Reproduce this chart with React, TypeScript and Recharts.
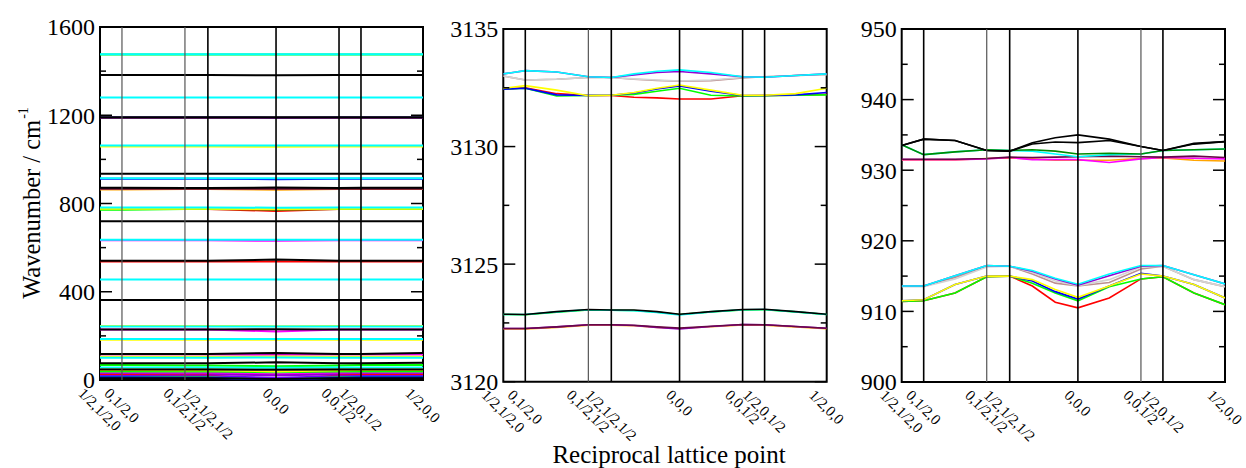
import React from 'react';
import { LineChart, Line, XAxis, YAxis, ReferenceLine, ReferenceArea } from 'recharts';

// k-path tick positions and labels
const kPos = [0, 0.068, 0.263, 0.334, 0.545, 0.74, 0.808, 1.0];
const kLabels = ['1/2,1/2,0', '0,1/2,0', '0,1/2,1/2', '1/2,1/2,1/2', '0,0,0', '0,0,1/2', '1/2,0,1/2', '1/2,0,0'];
// sampled path positions (for zoomed panels)
const pathPos = [0, 0.068, 0.165, 0.263, 0.334, 0.404, 0.475, 0.545, 0.642, 0.74, 0.808, 0.904, 1.0];

const COL: Record<string, string> = {
  black: '#000000', red: '#ff0000', green: '#00ff00', blue: '#0000ff', yellow: '#ffff00',
  brown: '#bc8f8f', grey: '#d3d3d3', violet: '#9400d3', cyan: '#00ffff', magenta: '#ff00ff',
  orange: '#ffa500', indigo: '#7200ff', maroon: '#670748', dgreen: '#008b00',
};

// Panel 1: full range 0-1600 (values at kPos)
const overviewHigh: [string, number[]][] = [
  ['green', [1475, 1475, 1475, 1475, 1475, 1475, 1475, 1475]],
  ['cyan', [1477, 1477, 1477, 1477, 1477, 1477, 1477, 1477]],
  ['black', [1382, 1382, 1382, 1382, 1381, 1382, 1382, 1382]],
  ['cyan', [1281, 1281, 1281, 1281, 1281, 1281, 1281, 1281]],
  ['blue', [1190, 1190, 1190, 1190, 1189, 1190, 1190, 1190]],
  ['maroon', [1189, 1189, 1189, 1189, 1189, 1189, 1189, 1189]],
  ['black', [1191, 1191, 1191, 1191, 1191, 1191, 1191, 1191]],
  ['yellow', [1058, 1058, 1058, 1058, 1057, 1058, 1058, 1058]],
  ['cyan', [1063, 1063, 1063, 1063, 1063, 1063, 1063, 1063]],
  ['black', [935, 935, 935, 935, 935, 935, 935, 935]],
  ['blue', [912, 912, 912, 912, 910, 912, 912, 912]],
  ['cyan', [915, 915, 915, 915, 914, 915, 915, 915]],
];
const overviewMid: [string, number[]][] = [
  ['orange', [863, 863, 866, 866, 862, 866, 866, 866]],
  ['maroon', [867, 867, 867, 867, 867, 867, 867, 867]],
  ['black', [871, 871, 870, 870, 872, 870, 871, 871]],
  ['red', [775, 775, 775, 775, 766, 775, 775, 775]],
  ['green', [772, 772, 775, 775, 773, 775, 775, 775]],
  ['yellow', [776, 776, 776, 776, 775, 776, 776, 776]],
  ['cyan', [782, 782, 782, 782, 781, 782, 782, 782]],
  ['black', [719, 719, 719, 719, 719, 719, 719, 719]],
  ['magenta', [633, 633, 633, 633, 631, 633, 633, 633]],
  ['cyan', [636, 636, 636, 636, 636, 636, 636, 636]],
  ['red', [537, 537, 537, 537, 537, 537, 537, 537]],
  ['black', [540, 540, 540, 540, 546, 540, 540, 540]],
  ['cyan', [456, 456, 456, 456, 455, 456, 456, 456]],
  ['black', [363, 363, 363, 363, 363, 363, 363, 363]],
];
const overviewLow: [string, number[]][] = [
  ['magenta', [229, 229, 229, 229, 220, 229, 229, 229]],
  ['black', [229, 229, 229, 229, 230, 229, 229, 229]],
  ['yellow', [245, 245, 245, 245, 244, 245, 245, 245]],
  ['cyan', [242, 242, 242, 242, 243, 242, 242, 242]],
  ['yellow', [182, 182, 182, 182, 183, 182, 182, 182]],
  ['cyan', [186, 186, 186, 186, 186, 186, 186, 186]],
  ['magenta', [116, 116, 116, 116, 114, 116, 116, 116]],
  ['black', [118, 118, 118, 118, 122, 118, 118, 122]],
  ['yellow', [105, 105, 105, 105, 106, 105, 105, 105]],
  ['cyan', [101, 101, 101, 101, 102, 101, 101, 101]],
  ['green', [68, 68, 66, 66, 62, 66, 68, 68]],
  ['orange', [52, 52, 52, 52, 50, 52, 52, 52]],
  ['yellow', [41, 41, 41, 41, 38, 41, 41, 41]],
  ['green', [36, 36, 35, 35, 30, 35, 36, 36]],
  ['cyan', [57, 57, 57, 57, 55, 57, 57, 57]],
  ['magenta', [30, 30, 30, 30, 26, 30, 30, 30]],
  ['violet', [26, 26, 25, 25, 22, 25, 26, 26]],
  ['red', [23, 23, 20, 20, 0, 20, 23, 23]],
  ['indigo', [18, 18, 17, 17, 10, 17, 18, 18]],
  ['green', [14, 14, 12, 12, 0, 12, 14, 14]],
  ['blue', [12, 12, 10, 10, 0, 10, 12, 12]],
  ['black', [76, 76, 76, 76, 80, 76, 76, 78]],
  ['black', [48, 48, 48, 48, 46, 48, 48, 48]],
  ['black', [8, 8, 8, 8, 5, 8, 8, 8]],
];

// Panel 2: 3120-3135 (values at pathPos)
const chHighBands: [string, number[]][] = [
  ['red', [3132.44, 3132.5, 3132.25, 3132.17, 3132.17, 3132.1, 3132.07, 3132.02, 3132.02, 3132.16, 3132.17, 3132.18, 3132.22]],
  ['green', [3132.44, 3132.48, 3132.15, 3132.17, 3132.18, 3132.22, 3132.35, 3132.48, 3132.18, 3132.15, 3132.16, 3132.18, 3132.2]],
  ['blue', [3132.44, 3132.48, 3132.2, 3132.17, 3132.18, 3132.28, 3132.45, 3132.58, 3132.35, 3132.17, 3132.17, 3132.2, 3132.3]],
  ['yellow', [3132.48, 3132.59, 3132.4, 3132.16, 3132.18, 3132.3, 3132.48, 3132.62, 3132.4, 3132.18, 3132.18, 3132.25, 3132.48]],
  ['brown', [3133.0, 3132.83, 3132.86, 3132.94, 3132.94, 3132.86, 3132.81, 3132.78, 3132.8, 3132.92, 3132.97, 3133.02, 3133.06]],
  ['grey', [3133.0, 3132.83, 3132.86, 3132.94, 3132.94, 3132.88, 3132.83, 3132.79, 3132.83, 3132.94, 3132.97, 3133.02, 3133.06]],
  ['violet', [3133.09, 3133.23, 3133.17, 3132.97, 3132.94, 3133.05, 3133.15, 3133.19, 3133.09, 3132.97, 3132.95, 3133.02, 3133.09]],
  ['cyan', [3133.09, 3133.23, 3133.17, 3132.97, 3132.94, 3133.09, 3133.2, 3133.26, 3133.15, 3132.97, 3132.95, 3133.02, 3133.09]],
];
const chLowBands: [string, number[]][] = [
  ['orange', [3122.24, 3122.24, 3122.31, 3122.4, 3122.4, 3122.38, 3122.31, 3122.26, 3122.34, 3122.41, 3122.4, 3122.33, 3122.25]],
  ['violet', [3122.26, 3122.26, 3122.33, 3122.42, 3122.42, 3122.39, 3122.31, 3122.24, 3122.35, 3122.43, 3122.42, 3122.35, 3122.27]],
  ['maroon', [3122.26, 3122.26, 3122.33, 3122.42, 3122.42, 3122.4, 3122.33, 3122.28, 3122.36, 3122.43, 3122.42, 3122.35, 3122.27]],
  ['green', [3122.86, 3122.85, 3122.96, 3123.05, 3123.04, 3123.03, 3122.96, 3122.86, 3122.97, 3123.05, 3123.06, 3122.97, 3122.86]],
  ['cyan', [3122.86, 3122.86, 3122.97, 3123.06, 3123.04, 3123.02, 3122.94, 3122.84, 3122.97, 3123.06, 3123.07, 3122.97, 3122.86]],
  ['black', [3122.87, 3122.86, 3122.98, 3123.07, 3123.05, 3123.05, 3122.98, 3122.87, 3122.98, 3123.07, 3123.08, 3122.98, 3122.87]],
];

// Panel 3: 900-950 (values at pathPos)
const ch2HighBands: [string, number[]][] = [
  ['orange', [931.45, 931.45, 931.45, 931.65, 931.75, 931.6, 931.4, 931.4, 931.4, 931.65, 931.75, 931.4, 931.3]],
  ['magenta', [931.5, 931.5, 931.5, 931.6, 931.8, 931.5, 931.5, 931.5, 931.1, 931.6, 931.8, 931.7, 931.6]],
  ['maroon', [931.55, 931.55, 931.55, 931.65, 931.85, 931.8, 931.85, 931.9, 932.0, 931.9, 931.85, 932.0, 931.8]],
  ['cyan', [933.6, 932.2, 932.6, 932.9, 932.8, 932.7, 932.3, 931.9, 932.2, 932.3, 932.8, 932.9, 933.0]],
  ['dgreen', [933.6, 932.2, 932.6, 932.9, 932.8, 932.9, 932.7, 932.3, 932.4, 932.3, 932.8, 932.9, 933.0]],
  ['black', [933.5, 934.4, 934.2, 932.8, 932.7, 933.7, 934.0, 933.9, 934.2, 933.35, 932.8, 933.7, 934.05]],
  ['black', [933.5, 934.4, 934.2, 932.8, 932.7, 933.9, 934.6, 935.0, 934.4, 933.35, 932.8, 933.8, 934.05]],
];
const ch2LowBands: [string, number[]][] = [
  ['red', [911.4, 911.5, 912.6, 914.9, 915.0, 913.6, 911.3, 910.5, 911.9, 914.6, 914.9, 912.6, 910.95]],
  ['green', [911.4, 911.5, 912.6, 914.9, 915.0, 914.0, 912.6, 911.5, 913.5, 914.6, 914.9, 912.6, 910.95]],
  ['blue', [911.5, 911.65, 913.8, 915.0, 915.0, 914.3, 912.8, 911.75, 913.6, 915.4, 915.0, 913.8, 911.9]],
  ['yellow', [911.5, 911.65, 913.8, 915.0, 915.0, 914.5, 913.1, 912.0, 913.6, 915.3, 915.0, 913.8, 911.9]],
  ['brown', [913.6, 913.6, 914.8, 916.4, 916.4, 915.3, 914.0, 913.6, 914.1, 916.0, 916.4, 914.5, 913.5]],
  ['grey', [913.5, 913.5, 914.6, 916.3, 916.4, 915.5, 914.3, 913.65, 914.5, 916.3, 916.4, 914.5, 913.5]],
  ['violet', [913.6, 913.6, 915.05, 916.5, 916.4, 915.7, 914.6, 913.7, 915.05, 916.4, 916.5, 915.2, 913.9]],
  ['cyan', [913.6, 913.6, 915.05, 916.5, 916.4, 915.8, 914.7, 913.85, 915.3, 916.5, 916.5, 915.2, 913.9]],
];

const ticksP1 = [0, 200, 400, 600, 800, 1000, 1200, 1400, 1600];
const ticksP2 = [3120, 3122.5, 3125, 3127.5, 3130, 3132.5, 3135];
const ticksP3 = [900, 905, 910, 915, 920, 925, 930, 935, 940, 945, 950];

const FONT = '"Liberation Serif", "Times New Roman", Times, "DejaVu Serif", serif';

const charW = (ch: string) => (ch === '/' ? 0.278 : ch === ',' ? 0.25 : 0.5);

const makeXTick = (labelTop: number) => (p: any) => {
  const label = kLabels[p.index] ?? '';
  const fs = 15;
  const L = label.split('').reduce((s, c) => s + charW(c), 0) * fs;
  const h = L * Math.SQRT1_2;
  return (
    <text
      transform={`translate(${p.x},${labelTop + h / 2}) rotate(45)`}
      textAnchor="middle"
      dy="0.35em"
      style={{ fontFamily: FONT, fontSize: fs }}
      fill="#000"
    >
      {label}
    </text>
  );
};

const makeYTick = (left: number, right: number, every: number) => (p: any) => {
  const v = p.payload.value;
  const r = v / every;
  const isMajor = Math.abs(r - Math.round(r)) < 1e-6;
  const len = isMajor ? 12 : 6;
  return (
    <g>
      <line x1={left} x2={left + len} y1={p.y} y2={p.y} stroke="#000" strokeWidth={1.5} />
      <line x1={right - len} x2={right} y1={p.y} y2={p.y} stroke="#000" strokeWidth={1.5} />
      {isMajor && (
        <text x={left - 5} y={p.y} dy="0.35em" textAnchor="end" style={{ fontFamily: FONT, fontSize: 24 }} fill="#000">
          {v}
        </text>
      )}
    </g>
  );
};

type PanelProps = {
  left: number;
  width: number;
  plotLeft: number;
  plotRight: number;
  plotTop: number;
  plotBottom: number;
  domain: [number, number];
  ticks: number[];
  every: number;
  xs: number[];
  bands: [string, number[]][];
  sw: number;
  greyLines: number[];
};

function Panel({ left, width, plotLeft, plotRight, plotTop, plotBottom, domain, ticks, every, xs, bands, sw, greyLines }: PanelProps) {
  const H = 468;
  const yAxisW = 60;
  const xAxisH = 60;
  const mLeft = plotLeft - left - yAxisW;
  const mRight = left + width - plotRight;
  const mBottom = H - plotBottom - xAxisH;
  return (
    <div style={{ position: 'absolute', left, top: 0, width, height: H }}>
      <LineChart width={width} height={H} margin={{ top: plotTop, right: mRight, bottom: mBottom, left: mLeft }}>
        <XAxis
          type="number"
          dataKey="x"
          domain={[0, 1]}
          ticks={kPos}
          interval={0}
          tick={makeXTick(plotBottom + 10.5)}
          tickLine={false}
          axisLine={false}
          height={xAxisH}
          allowDataOverflow
        />
        <YAxis
          type="number"
          domain={domain}
          ticks={ticks}
          interval={0}
          width={yAxisW}
          tick={makeYTick(plotLeft - left, plotRight - left, every)}
          tickLine={false}
          axisLine={false}
          allowDataOverflow
        />
        {bands.map(([c, vals], i) => (
          <Line
            key={i}
            data={xs.map((x, j) => ({ x, y: vals[j] }))}
            dataKey="y"
            type="linear"
            stroke={COL[c]}
            strokeWidth={sw}
            dot={false}
            activeDot={false}
            isAnimationActive={false}
          />
        ))}
        {kPos.slice(1, -1).map((k) => (
          <ReferenceLine
            key={k}
            x={k}
            stroke={greyLines.includes(k) ? '#555' : '#000'}
            strokeWidth={greyLines.includes(k) ? 1.2 : 1.6}
          />
        ))}
        <ReferenceArea x1={0} x2={1} y1={domain[0]} y2={domain[1]} fill="none" fillOpacity={0} stroke="#000" strokeWidth={2} />
      </LineChart>
    </div>
  );
}

export default function App() {
  return (
    <div style={{ position: 'absolute', left: 0, top: 0, width: 1246, height: 468, background: '#fff', overflow: 'hidden' }}>
      <Panel
        left={0}
        width={460}
        plotLeft={100}
        plotRight={423}
        plotTop={27}
        plotBottom={380}
        domain={[0, 1600]}
        ticks={ticksP1}
        every={400}
        xs={kPos}
        bands={[...overviewLow, ...overviewMid, ...overviewHigh]}
        sw={2}
        greyLines={[0.068, 0.263]}
      />
      <Panel
        left={430}
        width={430}
        plotLeft={503.3}
        plotRight={826.7}
        plotTop={29}
        plotBottom={381.7}
        domain={[3120, 3135]}
        ticks={ticksP2}
        every={5}
        xs={pathPos}
        bands={[...chLowBands, ...chHighBands]}
        sw={1.6}
        greyLines={[0.263]}
      />
      <Panel
        left={840}
        width={406}
        plotLeft={901.7}
        plotRight={1225}
        plotTop={29}
        plotBottom={382}
        domain={[900, 950]}
        ticks={ticksP3}
        every={10}
        xs={pathPos}
        bands={[...ch2HighBands, ...ch2LowBands]}
        sw={1.6}
        greyLines={[0.263, 0.74]}
      />
      <svg width={1246} height={468} style={{ position: 'absolute', left: 0, top: 0, pointerEvents: 'none' }}>
        <text transform="translate(40,203) rotate(-90)" textAnchor="middle" style={{ fontFamily: FONT, fontSize: 24.5 }} fill="#000">
          Wavenumber / cm
          <tspan dx={1} dy={-12} style={{ fontSize: 14 }}>-1</tspan>
        </text>
        <text x={669} y={463} textAnchor="middle" style={{ fontFamily: FONT, fontSize: 25 }} fill="#000">
          Reciprocal lattice point
        </text>
      </svg>
    </div>
  );
}
